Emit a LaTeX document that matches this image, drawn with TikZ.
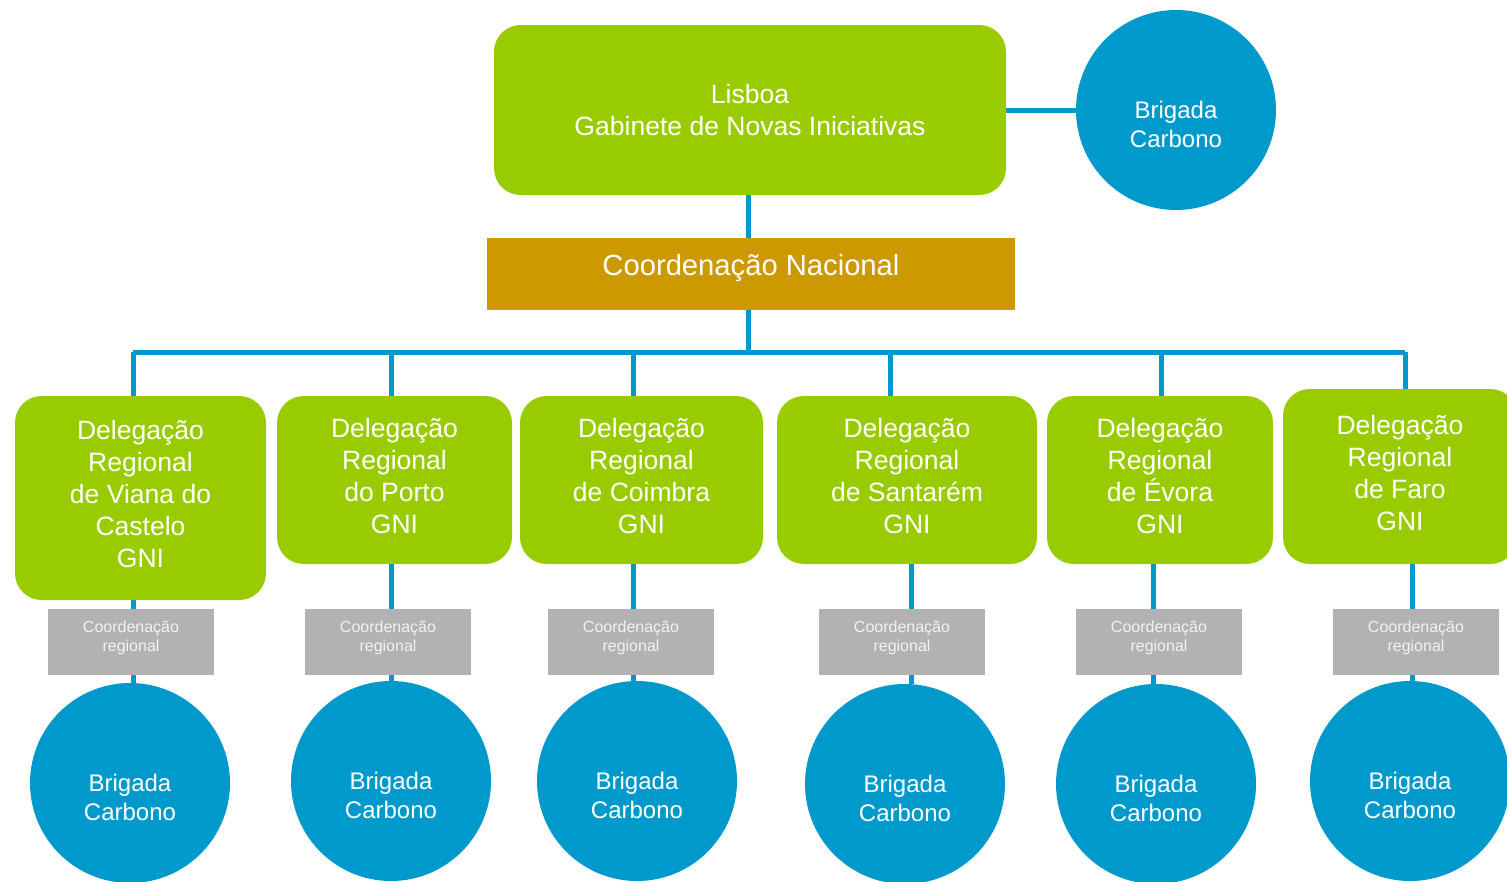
\documentclass[tikz,border=0pt]{standalone}
\usepackage{fontspec}
\setmainfont{Liberation Sans}
\usetikzlibrary{backgrounds}

\tikzset{
  link/.style={color={rgb, 255:red, 0; green, 153; blue, 204}, line width=3.75pt},
  greenbox/.style={fill={rgb, 255:red, 153; green, 204; blue, 0}, rounded corners=20pt, text=white, align=center, inner sep=0pt,
    font=\fontsize{19.9}{24}\selectfont},
  natbox/.style={fill={rgb, 255:red, 204; green, 153; blue, 0}, text=white, inner sep=0pt, minimum width=396pt, minimum height=54pt,
    font=\fontsize{21.9}{26}\selectfont, text height=16pt, text depth=14pt},
  regbox/.style={fill={rgb, 255:red, 178; green, 178; blue, 178}, text={rgb, 255:red, 242; green, 242; blue, 242}, align=center, inner sep=0pt,
    minimum width=124.5pt, minimum height=49.5pt, font=\fontsize{12}{14.25}\selectfont},
  brig/.style={circle, fill={rgb, 255:red, 0; green, 153; blue, 204}, text=white, align=center, inner sep=0pt, minimum size=150pt,
    font=\fontsize{18}{21.75}\selectfont},
}
\newcommand{\brigtext}{\rule{0pt}{35pt}Brigada\\Carbono}
\newcommand{\regtext}{Coordenação\\regional\rule[-8.5pt]{0pt}{0pt}}
\newcommand{\dlow}{\rule[-6pt]{0pt}{0pt}}

\begin{document}
\begin{tikzpicture}[x=0.75pt,y=0.75pt,yscale=-1,xscale=1]
\useasboundingbox (0,0) rectangle (1507,882);

% Top level
\node [greenbox, minimum width=384pt, minimum height=127.5pt] (lisboa) at (750,110) {Lisboa\\Gabinete de Novas Iniciativas};
\node [brig] (brigTop) at (1176,110) {\brigtext};
\node [natbox] (nacional) at (751,274) {Coordenação Nacional};

% Delegations
\node [greenbox, minimum width=188.25pt, minimum height=153pt] (dViana) at (140.5,498) {Delegação\\Regional\\de Viana do\\Castelo\\GNI\dlow};
\node [greenbox, minimum width=176.25pt, minimum height=126pt] (dPorto) at (394.5,480) {Delegação\\Regional\\do Porto\\GNI\dlow};
\node [greenbox, minimum width=182.25pt, minimum height=126pt] (dCoimbra) at (641.5,480) {Delegação\\Regional\\de Coimbra\\GNI\dlow};
\node [greenbox, minimum width=195pt, minimum height=126pt] (dSantarem) at (907,480) {Delegação\\Regional\\de Santarém\\GNI\dlow};
\node [greenbox, minimum width=169.5pt, minimum height=126pt] (dEvora) at (1160,480) {Delegação\\Regional\\de Évora\\GNI\dlow};
\node [greenbox, minimum width=175.5pt, minimum height=131.25pt] (dFaro) at (1400,476.5) {Delegação\\Regional\\de Faro\\GNI\dlow};

% Regional coordination
\node [regbox] (cViana) at (131,642) {\regtext};
\node [regbox] (cPorto) at (388,642) {\regtext};
\node [regbox] (cCoimbra) at (631,642) {\regtext};
\node [regbox] (cSantarem) at (902,642) {\regtext};
\node [regbox] (cEvora) at (1159,642) {\regtext};
\node [regbox] (cFaro) at (1416,642) {\regtext};

% Brigades
\node [brig] (bViana) at (130,783) {\brigtext};
\node [brig] (bPorto) at (391,781) {\brigtext};
\node [brig] (bCoimbra) at (637,781) {\brigtext};
\node [brig] (bSantarem) at (905,784) {\brigtext};
\node [brig] (bEvora) at (1156,784) {\brigtext};
\node [brig] (bFaro) at (1410,781) {\brigtext};

% Bus points
\coordinate (mid) at (748,352);
\coordinate (j1) at (133,352);
\coordinate (j2) at (391,352);
\coordinate (j3) at (633,352);
\coordinate (j4) at (890,352);
\coordinate (j5) at (1161,352);
\coordinate (j6) at (1405,352);
% Lower line positions
\coordinate (k1) at (133,600);
\coordinate (k2) at (391,600);
\coordinate (k3) at (633,600);
\coordinate (k4) at (911,600);
\coordinate (k5) at (1153,600);
\coordinate (k6) at (1412,600);

\begin{scope}[on background layer]
%Straight Lines
\draw [link] (lisboa.east) -- (brigTop.west);
\draw [link] (mid |- lisboa.south) -- (mid |- nacional.north);
\draw [link] (mid |- nacional.south) -- (mid);
\draw [link] (j1) -- (j6);
\draw [link] (j1) -- (j1 |- dViana.north);
\draw [link] (j2) -- (j2 |- dPorto.north);
\draw [link] (j3) -- (j3 |- dCoimbra.north);
\draw [link] (j4) -- (j4 |- dSantarem.north);
\draw [link] (j5) -- (j5 |- dEvora.north);
\draw [link] (j6) -- (j6 |- dFaro.north);
%Straight Lines
\draw [link] (k1 |- dViana.south) -- (k1 |- bViana.north);
\draw [link] (k2 |- dPorto.south) -- (k2 |- bPorto.north);
\draw [link] (k3 |- dCoimbra.south) -- (k3 |- bCoimbra.north);
\draw [link] (k4 |- dSantarem.south) -- (k4 |- bSantarem.north);
\draw [link] (k5 |- dEvora.south) -- (k5 |- bEvora.north);
\draw [link] (k6 |- dFaro.south) -- (k6 |- bFaro.north);
\end{scope}

\end{tikzpicture}
\end{document}
